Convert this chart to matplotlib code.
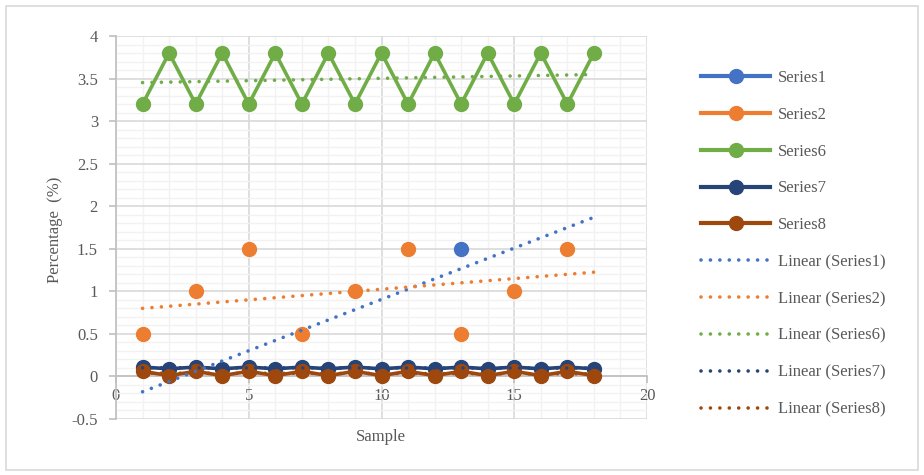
import numpy as np
import matplotlib
matplotlib.use("Agg")
import matplotlib.pyplot as plt
from matplotlib.lines import Line2D
from matplotlib.patches import Rectangle
from matplotlib.ticker import MultipleLocator

nan = np.nan
sample = list(range(1, 19))
series1 = [nan]*12 + [1.5] + [nan]*5
series2 = [0.5, nan, 1.0, nan, 1.5, nan, 0.5, nan, 1.0, nan, 1.5, nan, 0.5, nan, 1.0, nan, 1.5, nan]
series6 = [3.2, 3.8]*9
series7 = [0.11, 0.09]*9
series8 = [0.06, 0.01]*9
series1_trend = [-0.18, 1.87]  # trendline end values (x=1 and x=18)

names = ["Series1", "Series2", "Series6", "Series7", "Series8"]
colors = ["#4472C4", "#ED7D31", "#70AD47", "#264478", "#9E480E"]
data = [series1, series2, series6, series7, series8]

plt.rcParams['font.family'] = ['Liberation Serif', 'DejaVu Serif']
txt = "#595959"

fig = plt.figure(figsize=(9.24, 4.75), dpi=100)
fig.patches.append(Rectangle((6/924, 5/475), 912/924, 464/475, transform=fig.transFigure,
                             fill=False, edgecolor="#d9d9d9", lw=1.2))
ax = fig.add_axes([116/924, 56/475, 531/924, 383/475])

x = np.array(sample, dtype=float)
dot = (0, (0.01, 2.6))
# trendlines
for name, c, d in zip(names, colors, data):
    y = np.array(d, dtype=float)
    if name == "Series1":
        tx = np.array([x[0], x[-1]]); ty = np.array(series1_trend)
    else:
        m = ~np.isnan(y)
        k, b = np.polyfit(x[m], y[m], 1)
        tx = np.array([x[0], x[-1]]); ty = k*tx + b
    ax.plot(tx, ty, color=c, lw=2.6, linestyle=dot, dash_capstyle='round', zorder=4)

for name, c, d in zip(names, colors, data):
    ax.plot(x, d, color=c, lw=2.6, marker='o', markersize=10, zorder=3)

ax.set_xlim(0, 20)
ax.set_ylim(-0.5, 4)
ax.xaxis.set_major_locator(MultipleLocator(5))
ax.xaxis.set_minor_locator(MultipleLocator(1))
ax.yaxis.set_major_locator(MultipleLocator(0.5))
ax.yaxis.set_minor_locator(MultipleLocator(0.1))
ax.set_yticks(np.arange(-0.5, 4.01, 0.5))
ax.set_yticklabels(["-0.5", "0", "0.5", "1", "1.5", "2", "2.5", "3", "3.5", "4"])
ax.grid(which='major', color="#d9d9d9", lw=1.2, zorder=0)
ax.grid(which='minor', color="#f2f2f2", lw=1.0, zorder=0)
ax.set_axisbelow(True)
for s in ['top', 'right']:
    ax.spines[s].set_visible(False)
ax.spines['left'].set_color("#bfbfbf")
ax.spines['bottom'].set_color("#bfbfbf")
ax.spines['left'].set_linewidth(1.2)
ax.spines['bottom'].set_linewidth(1.2)
ax.spines['bottom'].set_position(('data', 0))
ax.tick_params(axis='both', which='major', colors="#bfbfbf", labelcolor=txt, labelsize=12, length=5, width=1.2)
ax.tick_params(axis='both', which='minor', length=0)
ax.tick_params(axis='y', pad=8)
ax.tick_params(axis='x', pad=3)

fig.text(381/924, 1 - 437/475, "Sample", ha='center', va='center', fontsize=12, color=txt)
fig.text(55/924, 1 - 230/475, "Percentage  (%)", ha='center', va='center', rotation=90, fontsize=12, color=txt)

handles = []
labels = []
for name, c in zip(names, colors):
    handles.append(Line2D([], [], color=c, lw=3, marker='o', markersize=10))
    labels.append(name)
for name, c in zip(names, colors):
    handles.append(Line2D([], [], color=c, lw=2.6, linestyle=dot, dash_capstyle='round'))
    labels.append(f"Linear ({name})")
leg = fig.legend(handles, labels, loc='upper left', bbox_to_anchor=(701/924, 1 - 70/475),
                 frameon=False, fontsize=12, handlelength=4.15, labelspacing=1.25,
                 handletextpad=0.45, borderaxespad=0, borderpad=0)
for t in leg.get_texts():
    t.set_color(txt)

fig.savefig("out.png", dpi=100)
